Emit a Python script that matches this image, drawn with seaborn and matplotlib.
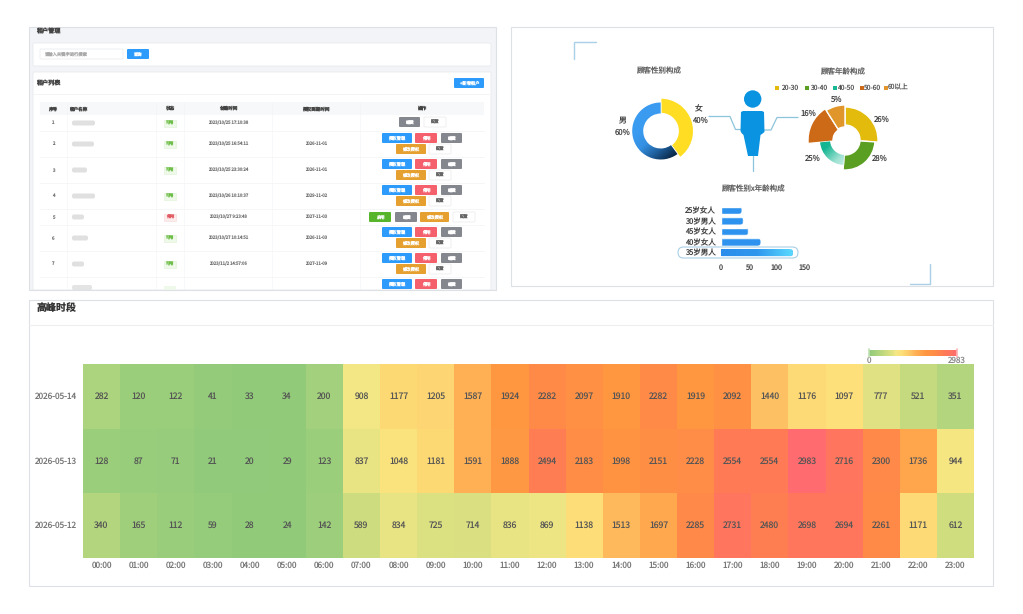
# -*- coding: utf-8 -*-
import numpy as np
import pandas as pd
import matplotlib
matplotlib.use("Agg")
import matplotlib.pyplot as plt
import seaborn as sns
from matplotlib.colors import LinearSegmentedColormap
from matplotlib.patches import Rectangle, FancyBboxPatch, Circle, Polygon

# 热力图数据
hours = ["%02d:00" % h for h in range(24)]
dates = ["2026-05-14", "2026-05-13", "2026-05-12"]
peak_0514 = [282, 120, 122, 41, 33, 34, 200, 908, 1177, 1205, 1587, 1924, 2282, 2097, 1910, 2282, 1919, 2092, 1440, 1176, 1097, 777, 521, 351]
peak_0513 = [128, 87, 71, 21, 20, 29, 123, 837, 1048, 1181, 1591, 1888, 2494, 2183, 1998, 2151, 2228, 2554, 2554, 2983, 2716, 2300, 1736, 944]
peak_0512 = [340, 165, 112, 59, 28, 24, 142, 589, 834, 725, 714, 836, 869, 1138, 1513, 1697, 2285, 2731, 2480, 2698, 2694, 2261, 1171, 612]
peak_max = 2983

# 环形图数据
gender_names = ["女", "男"]
gender_share = [40, 60]
age_names = ["20-30", "30-40", "40-50", "50-60", "60以上"]
age_labels = ["26%", "28%", "25%", "16%", "5%"]
age_arcs = [26, 25, 22.5, 17.5, 9]  # 图上实际弧长占比

# 条形图数据
combo_names = ["25岁女人", "30岁男人", "45岁女人", "40岁女人", "35岁男人"]
combo_values = [37, 40, 49, 71, 129]

# 租户表
table_headers = ["序号", "租户名称", "状态", "创建时间", "授权到期时间", "操作"]
row_ids = ["1", "2", "3", "4", "5", "6", "7"]
row_created = ["2023/10/25 17:10:38", "2023/10/25 16:54:11", "2023/10/25 23:30:24", "2023/10/26 10:10:37",
               "2023/10/27 9:23:48", "2023/10/27 10:14:51", "2023/11/2 14:57:06"]
row_expire = ["", "2026-11-01", "2026-11-01", "2029-11-02", "2027-11-03", "2026-11-03", "2027-11-09"]
row_status = ["可用", "可用", "可用", "可用", "停用", "可用", "可用"]

sns.set_theme(style="white")
plt.rcParams["font.family"] = ["Noto Sans CJK SC", "DejaVu Sans"]
plt.rcParams["axes.unicode_minus"] = False
plt.rcParams["text.hinting"] = "no_hinting"

W, H = 1023, 614
fig = plt.figure(figsize=(W / 100, H / 100), dpi=100, facecolor="white")

# 整张图的像素坐标层
bg = fig.add_axes([0, 0, 1, 1])
bg.set_xlim(0, W)
bg.set_ylim(H, 0)
bg.axis("off")


def px_axes(x0, y0, x1, y1):
    return fig.add_axes([x0 / W, 1 - y1 / H, (x1 - x0) / W, (y1 - y0) / H])


def box(x0, y0, x1, y1, fc="white", ec="none", lw=0.6, r=0, z=1):
    if r > 0:
        p = FancyBboxPatch((x0, y0), x1 - x0, y1 - y0, boxstyle="round,pad=0,rounding_size=%s" % r,
                           fc=fc, ec=ec, lw=lw, zorder=z)
    else:
        p = Rectangle((x0, y0), x1 - x0, y1 - y0, fc=fc, ec=ec, lw=lw, zorder=z)
    bg.add_patch(p)
    return p


def label(x, y, s, size=5.5, color="#444444", ha="center", z=6, **kw):
    return bg.text(x, y, s, fontsize=size, color=color, ha=ha, va="center", zorder=z, **kw)


def button(x0, x1, y, text, fc, color="white", ec="none"):
    box(x0, y, x1, y + 10, fc=fc, ec=ec, r=1, z=3)
    label((x0 + x1) / 2, y + 5, text, size=3.1, color=color)


# ---------- 左上：租户管理 ----------
box(29, 27, 496, 290, fc="#F2F4F7", ec="#DDE0E4", lw=0.8)
label(48.5, 31, "租户管理", size=4.4, color="#444444", weight="bold")
box(33, 43, 491, 66, fc="white", ec="#E8EAEE", r=1, z=2)
box(40, 49, 123, 59, fc="white", ec="#EBEDF0", r=1, z=3)
label(44, 54, "请输入关键字进行搜索", size=3.1, color="#AAAAAA", ha="left")
button(127, 149, 49, "查询", "#2D9BFB")
box(33, 72, 491, 290, fc="white", ec="#E8EAEE", r=1, z=2)
label(48.5, 83, "租户列表", size=4.4, color="#444444", weight="bold")
button(454, 484, 78, "+ 新增租户", "#2D9BFB")
bg.plot([33, 491], [94, 94], color="#F3F4F6", lw=0.7, zorder=3)

box(40, 102, 484, 115, fc="#F7F8FA", z=3)
for x, h in zip([53, 78, 170, 228, 316, 422], table_headers):
    label(x, 108.5, h, size=3.3, color="#444444", weight="bold")
for x in [67, 156, 184, 272, 360]:
    bg.plot([x, x], [102, 290], color="#F4F5F7", lw=0.5, zorder=3)

row_tops = [115, 131, 157, 183, 209, 225, 251, 277]
name_widths = [23, 22, 15, 23, 12, 16, 12, 20]
for i, top in enumerate(row_tops):
    bottom = row_tops[i + 1] if i < len(row_tops) - 1 else 303
    mid = (top + bottom) / 2
    if i < len(row_tops) - 1:
        bg.plot([40, 484], [bottom, bottom], color="#F4F5F7", lw=0.6, zorder=3)
    if i >= len(row_ids):
        # 最后一行被裁切，只露出上半部分
        button(382, 412, 279, "授权管理", "#2D9BFB")
        button(415, 437, 279, "停用", "#F4606C")
        button(441, 462, 279, "编辑", "#85878F")
        box(72, 285, 72 + name_widths[i], 290, fc="#E4E4E4", r=2, z=3)
        box(164, 286, 176, 290, fc="#EFF9EA", z=3)
        continue
    label(53, mid, row_ids[i], size=3.2, color="#777777")
    box(72, mid - 2.5, 72 + name_widths[i], mid + 2.5, fc="#E0E0E0", r=2, z=3)
    used = row_status[i] == "可用"
    box(164, mid - 3.5, 176, mid + 3.5, fc="#EFF9EA" if used else "#FDECEC",
        ec="#DDF2D2" if used else "#F9D9D9", lw=0.4, z=3)
    label(170, mid, row_status[i], size=3, color="#62B83A" if used else "#E0575F")
    label(228, mid, row_created[i], size=3.1, color="#777777")
    label(316, mid, row_expire[i], size=3.1, color="#777777")
    if i == 0:
        button(399, 420, 117, "编辑", "#85878F")
        button(424, 446, 117, "配置", "white", "#666666", "#ECEDF0")
    elif i == 4:
        button(369, 391, 212, "启用", "#57B52B")
        button(395, 417, 212, "编辑", "#85878F")
        button(420, 449, 212, "修改授权", "#E6A02F")
        button(453, 475, 212, "配置", "white", "#666666", "#ECEDF0")
    else:
        button(382, 412, top + 2, "授权管理", "#2D9BFB")
        button(415, 437, top + 2, "停用", "#F4606C")
        button(441, 462, top + 2, "编辑", "#85878F")
        button(396, 426, top + 13, "修改授权", "#E6A02F")
        button(429, 451, top + 13, "配置", "white", "#666666", "#ECEDF0")
# 盖住面板下方溢出
box(20, 290.5, 510, 299, fc="white", z=5)
bg.plot([29, 496], [290, 290], color="#DDE0E4", lw=0.8, zorder=6)

# ---------- 右上：顾客构成 ----------
box(511, 27, 993, 286, fc="white", ec="#DDE0E4", lw=0.8)
corner = "#A9D0E6"
bg.plot([574, 574, 596], [59, 42, 42], color=corner, lw=1, zorder=2)
bg.plot([910, 930, 930], [284, 284, 264], color=corner, lw=1, zorder=2)

label(659, 71, "顾客性别构成", size=5.4, color="#666666")
label(843, 72, "顾客年龄构成", size=5.4, color="#666666")
label(754, 189, "顾客性别x年龄构成", size=5.4, color="#666666")

label(623, 121, "男", size=5.6, color="#444444")
label(623, 133, "60%", size=5.6, color="#444444")
label(699, 109, "女", size=5.6, color="#444444")
label(700, 121, "40%", size=5.6, color="#444444")

# 人形和连接线
person = "#0A93E0"
line = "#8CC4DC"
bg.plot([709, 730, 735.5, 741], [116.5, 116.5, 129.5, 129.5], color=line, lw=0.9, zorder=2)
bg.plot([798, 777, 771, 764], [117.5, 117.5, 130, 130], color=line, lw=0.9, zorder=2)
bg.plot([752.7, 752.7], [155, 171], color=line, lw=0.9, zorder=2)
bg.add_patch(Circle((752.7, 99), 8.7, fc=person, ec="none", zorder=3))
bg.add_patch(Polygon([(741, 112), (743, 111), (762, 111), (764, 112), (764.5, 132), (762, 134),
                      (760.5, 135), (758, 156), (748, 156), (743.5, 135), (741.5, 133), (740.5, 131)],
                     closed=True, fc=person, ec="none", zorder=3))


def donut_axes(cx, cy, half=42):
    a = px_axes(cx - half, cy - half, cx + half, cy + half)
    a.patch.set_alpha(0)
    a.axis("off")
    return a


def fade(a, wedge, colors, angle, r, half=42):
    # 线性渐变，裁剪到扇形
    xx, yy = np.meshgrid(np.linspace(-half, half, 160), np.linspace(half, -half, 160))
    t = xx * np.cos(angle) + yy * np.sin(angle)
    cm = LinearSegmentedColormap.from_list("f", colors)
    im = a.imshow(t, extent=(-half, half, -half, half), cmap=cm, vmin=-r, vmax=r, aspect="auto", zorder=3)
    im.set_clip_path(wedge)
    a.set_xlim(-half, half)
    a.set_ylim(-half, half)


ax_gender = donut_axes(660.7, 131)
w_gender, _ = ax_gender.pie(gender_share, colors=["#FFDD22", "#3A9BF0"], startangle=90, counterclock=False, radius=1)
w_gender[0].set_radius(33)
w_gender[0].set_width(33 - 17.5)
w_gender[1].set_radius(28.5)
w_gender[1].set_width(28.5 - 17.5)
fade(ax_gender, w_gender[1], ["#3A9BF0", "#3A9BF0", "#3490E2", "#1D5C98", "#0A2440"], np.radians(-50), 28.5)
ax_gender.set_xlim(-42, 42)
ax_gender.set_ylim(-42, 42)

ax_age = donut_axes(845, 140)
age_colors = ["#E3BB0C", "#5A9E22", "#18B795", "#CC6A18", "#E0962A"]
age_radius = [33, 30, 25, 37, 35]
age_inner = [15, 15, 15, 12, 13]
w_age, _ = ax_age.pie(age_arcs, colors=age_colors, startangle=90, counterclock=False, radius=1)
for w, r, q in zip(w_age, age_radius, age_inner):
    w.set_radius(r)
    w.set_width(r - q)
fade(ax_age, w_age[2], ["#14B592", "#14B592", "#9FE2D2", "#E4F6F1"], np.radians(-45), 25)
ax_age.set_xlim(-42, 42)
ax_age.set_ylim(-42, 42)

for (x, y), s in zip([(882, 120), (880, 159), (813, 159), (808, 114), (836, 100)], age_labels):
    label(x, y, s, size=5.6, color="#444444")

for xs, xt, c, s in zip([777, 807, 835, 862, 886], [791, 819, 846, 872, 898], age_colors, age_names):
    box(xs - 2, 86, xs + 2, 90, fc=c, z=3)
    label(xt, 87.5, s, size=4.8, color="#555555")

# 条形图
ax_bar = px_axes(721, 205, 804.6, 258)
ax_bar.patch.set_alpha(0)
combo_df = pd.DataFrame({"name": combo_names, "value": combo_values})
sns.barplot(data=combo_df, x="value", y="name", color="#2E93EE", saturation=1, width=0.7, ax=ax_bar)
ax_bar.set_xlim(0, 150)
ylims = ax_bar.get_ylim()
aspect = (5 / 53) / (150 / 83.6)
for i, bar in enumerate(ax_bar.patches):
    bx, by, bw, bh = bar.get_x(), bar.get_y(), bar.get_width(), bar.get_height()
    clip = FancyBboxPatch((bx - 20, by), bw + 20, bh, boxstyle="round,pad=0,rounding_size=6",
                          mutation_aspect=aspect, transform=ax_bar.transData, fc="none", ec="none")
    ax_bar.add_patch(clip)
    bar.set_clip_path(clip)
    if i == len(combo_values) - 1:
        cm = LinearSegmentedColormap.from_list("b", ["#2A8CEB", "#2F97EE", "#5AD9FF"])
        im = ax_bar.imshow(np.linspace(0, 1, 100).reshape(1, -1), extent=(0, bw, by + bh, by), cmap=cm,
                           aspect="auto", zorder=3)
        im.set_clip_path(clip)
ax_bar.set_xlim(0, 150)
ax_bar.set_ylim(ylims)
ax_bar.set_xticks([0, 50, 100, 150])
ax_bar.set_xlabel("")
ax_bar.set_ylabel("")
ax_bar.tick_params(axis="x", length=0, labelsize=5.2, colors="#444444", pad=4)
ax_bar.tick_params(axis="y", length=0, labelsize=5.4, colors="#444444", pad=4)
sns.despine(ax=ax_bar, left=True, bottom=True)
box(678, 247, 798, 258, fc="none", ec="#A9CFE6", lw=0.8, r=5.5, z=7)

# ---------- 底部：高峰时段 ----------
box(29, 300, 993, 586, fc="white", ec="#DDE0E4", lw=0.8)
label(37, 308, "高峰时段", size=7.2, color="#333333", ha="left", weight="bold")
bg.plot([29, 993], [325, 325], color="#EEEEEE", lw=0.8, zorder=2)

peak_df = pd.DataFrame([peak_0514, peak_0513, peak_0512], index=dates, columns=hours)
peak_cmap = LinearSegmentedColormap.from_list("peak", [
    (0.0, "#8FCA7A"), (0.118, "#B3D57E"), (0.197, "#CDDC7E"), (0.26, "#E0E182"), (0.305, "#F3E784"),
    (0.37, "#FDE07A"), (0.483, "#FDC062"), (0.532, "#FFB055"), (0.645, "#FF9640"), (0.765, "#FF8A48"),
    (0.856, "#FF7A55"), (0.92, "#FF755E"), (1.0, "#FF6B6E")])

ax_heat = px_axes(83, 364, 974, 558)
ax_cb = px_axes(869, 350, 957, 356)
sns.heatmap(peak_df, ax=ax_heat, cmap=peak_cmap, vmin=0, vmax=peak_max, annot=True, fmt="d",
            annot_kws={"fontsize": 6.2, "color": "#555555"}, cbar_ax=ax_cb,
            cbar_kws={"orientation": "horizontal", "ticks": [0, peak_max]})
ax_heat.set_xlabel("")
ax_heat.set_ylabel("")
ax_heat.tick_params(axis="both", length=0, labelsize=5.9, labelcolor="#777777", pad=4)
ax_heat.tick_params(axis="x", rotation=0, pad=2)
ax_heat.tick_params(axis="y", rotation=0)
ax_cb.tick_params(axis="x", length=0, labelsize=5.8, labelcolor="#888888", pad=0)
ax_cb.xaxis.set_ticks_position("bottom")
# 色条两端的手柄
ax_cb.axvline(0, color="#BFE0B2", lw=1.2, ymin=-0.2, ymax=1.2, clip_on=False)
ax_cb.axvline(peak_max, color="#FFB3B3", lw=1.2, ymin=-0.2, ymax=1.2, clip_on=False)

plt.savefig("out.png", dpi=100)
